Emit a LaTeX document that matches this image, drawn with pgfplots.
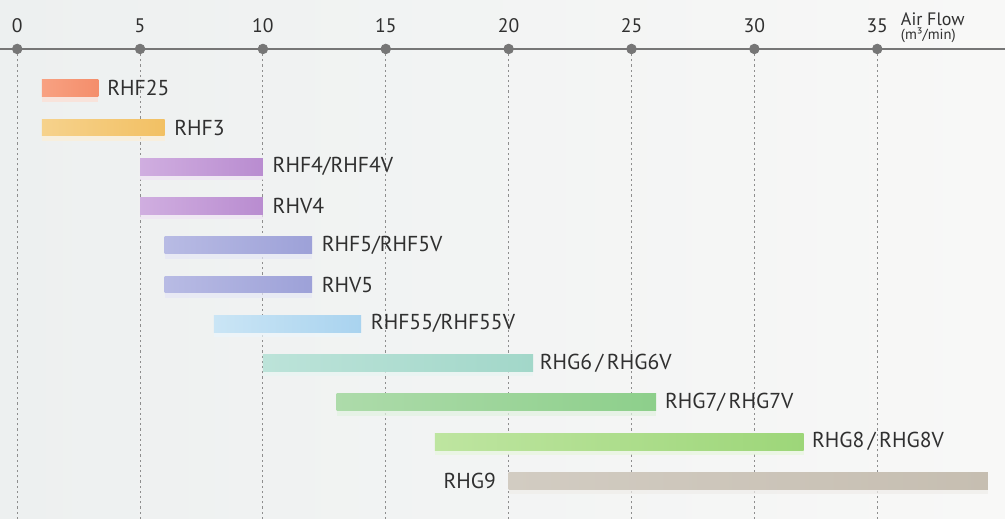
\documentclass[border=0pt]{standalone}
\usepackage{pgfplots}
\pgfplotsset{compat=1.18}
\usepackage{fontspec}
\setmainfont{PT Sans}
\usetikzlibrary{backgrounds}

\definecolor{txt}{HTML}{303030}
\definecolor{axisgray}{HTML}{767676}
\definecolor{gridgray}{HTML}{8E8E8E}
\definecolor{bgl}{HTML}{EDF0F0}
\definecolor{bgr}{HTML}{F8F8F7}

% start, end, row, left colour, right colour
\newcommand\rbar[5]{%
  \pgfmathsetmacro\ya{#3-0.215}\pgfmathsetmacro\yb{#3+0.215}\pgfmathsetmacro\yc{#3-0.34}%
  \addplot[draw=none,fill=#4!35!white,opacity=0.7] coordinates {(#1,\yc) (#2,\yc) (#2,\ya) (#1,\ya)} -- cycle;
  \addplot[draw=none,left color=#4,right color=#5] coordinates {(#1,\ya) (#2,\ya) (#2,\yb) (#1,\yb)} -- cycle;
}

\begin{document}
\begin{tikzpicture}
\begin{axis}[
  scale only axis, width=502.5pt, height=235pt,
  xmin=-0.7, xmax=40.2, ymin=0.03, ymax=12,
  axis x line*=top, axis y line=none,
  x axis line style={-, draw=axisgray, line width=0.7pt},
  xtick={0,5,...,35}, ytick=\empty,
  major tick length=0pt,
  xticklabel pos=upper,
  xticklabel style={font=\fontsize{9.8}{11}\selectfont, text=txt, yshift=4.5pt},
  /pgf/number format/assume math mode=true,
  xmajorgrids,
  grid style={draw=gridgray, line width=0.45pt, dash pattern=on 1.1pt off 1.5pt},
  clip=false,
]
\definecolor{c1a}{HTML}{F8A182}\definecolor{c1b}{HTML}{F48E6B}
\definecolor{c2a}{HTML}{F6D28C}\definecolor{c2b}{HTML}{F2C063}
\definecolor{c3a}{HTML}{D0AEE0}\definecolor{c3b}{HTML}{B98CD0}
\definecolor{c5a}{HTML}{B8BBE4}\definecolor{c5b}{HTML}{9DA1D8}
\definecolor{c7a}{HTML}{CAE5F5}\definecolor{c7b}{HTML}{A9D3EF}
\definecolor{c8a}{HTML}{BCE3D9}\definecolor{c8b}{HTML}{A2D7C9}
\definecolor{c9a}{HTML}{ADDBAA}\definecolor{c9b}{HTML}{8DCF8B}
\definecolor{caa}{HTML}{BEE5A0}\definecolor{cab}{HTML}{9DD679}
\definecolor{cba}{HTML}{D2CCC2}\definecolor{cbb}{HTML}{C6BEB1}

\rbar{1}{3.3}{11}{c1a}{c1b}
\rbar{1}{6}{10}{c2a}{c2b}
\rbar{5}{10}{9}{c3a}{c3b}
\rbar{5}{10}{8}{c3a}{c3b}
\rbar{6}{12}{7}{c5a}{c5b}
\rbar{6}{12}{6}{c5a}{c5b}
\rbar{8}{14}{5}{c7a}{c7b}
\rbar{10}{21}{4}{c8a}{c8b}
\rbar{13}{26}{3}{c9a}{c9b}
\rbar{17}{32}{2}{caa}{cab}
\rbar{20}{39.5}{1}{cba}{cbb}

\addplot[only marks, mark=*, mark size=2.4pt, color=axisgray] coordinates {(0,12) (5,12) (10,12) (15,12) (20,12) (25,12) (30,12) (35,12)};

\begin{scope}[every node/.style={anchor=west, inner sep=0pt, text=txt, font=\fontsize{10.8}{12}\selectfont}]
\node at (axis cs:3.65,11) {RHF25};
\node at (axis cs:6.38,10) {RHF3};
\node at (axis cs:10.38,9) {RHF4/RHF4V};
\node at (axis cs:10.38,8) {RHV4};
\node at (axis cs:12.38,7) {RHF5/RHF5V};
\node at (axis cs:12.38,6) {RHV5};
\node at (axis cs:14.38,5) {RHF55/RHF55V};
\node at (axis cs:21.25,4) {RHG6\,/\,RHG6V};
\node at (axis cs:26.35,3) {RHG7/\,RHG7V};
\node at (axis cs:32.33,2) {RHG8\,/\,RHG8V};
\node[anchor=east] at (axis cs:19.5,1) {RHG9};
\end{scope}
\node[anchor=west, inner sep=0pt, text=txt, font=\fontsize{9}{10}\selectfont] at (axis cs:35.95,12.76) {Air Flow};
\node[anchor=west, inner sep=0pt, text=txt, font=\fontsize{7.3}{8}\selectfont] at (axis cs:35.95,12.34) {(m³/min)};

\coordinate (TL) at (axis cs:-0.7,13.247);
\coordinate (BR) at (axis cs:40.2,0.03);
\end{axis}
\begin{scope}[on background layer]
\shade[left color=bgl, right color=bgr] (TL) rectangle (BR);
\end{scope}
\pgfresetboundingbox
\useasboundingbox (TL) rectangle (BR);
\end{tikzpicture}
\end{document}
